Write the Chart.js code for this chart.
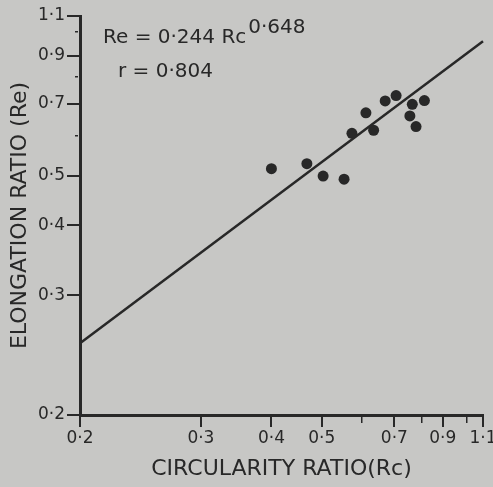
<!DOCTYPE html>
<html>
<head>
<meta charset="utf-8">
<script src="https://cdn.jsdelivr.net/npm/chart.js@4/dist/chart.umd.min.js"></script>
<style>
  html, body { margin: 0; padding: 0; background: #c7c7c5; }
  #wrap { width: 493px; height: 487px; }
</style>
</head>
<body>
<div id="wrap"><canvas id="ratioChart" width="493" height="487"></canvas></div>
<script>
// Circularity ratio (Rc) vs elongation ratio (Re) of the basins
const rcValues = [0.40, 0.468, 0.503, 0.553, 0.573, 0.611, 0.634, 0.670, 0.706, 0.764, 0.755, 0.778, 0.812];
const reValues = [0.516, 0.528, 0.499, 0.492, 0.607, 0.670, 0.616, 0.710, 0.729, 0.698, 0.660, 0.627, 0.711];

// fitted line, as drawn
const fitRc = [0.2, 1.1];
const fitRe = [0.255, 0.96];

// tick marks on both axes, and the ones that carry a label
const tickValues = [0.2, 0.3, 0.4, 0.5, 0.6, 0.7, 0.8, 0.9, 1.0, 1.1];
const labelledTicks = [0.2, 0.3, 0.4, 0.5, 0.7, 0.9, 1.1];

// the printed log paper is hand-ruled: where each tick sits along the axis (0..1)
const axisRuling = [0, 0.30, 0.475, 0.60, 0.70, 0.78, 0.848, 0.90, 0.96, 1];

const INK = "#282828";
const FONT = "'DejaVu Sans', sans-serif";

// log scale that follows the hand-ruled tick positions
class RuledLogScale extends Chart.LogarithmicScale {
    buildTicks() {
        return tickValues.map(v => ({ value: v }));
    }
    toDecimal(value) {
        const lv = Math.log10(value);
        const n = tickValues.length;
        let i = 0;
        while (i < n - 2 && lv > Math.log10(tickValues[i + 1])) i++;
        const a = Math.log10(tickValues[i]), b = Math.log10(tickValues[i + 1]);
        const t = (lv - a) / (b - a);
        return axisRuling[i] + t * (axisRuling[i + 1] - axisRuling[i]);
    }
    getPixelForValue(value) {
        if (value === null || value === undefined || isNaN(value) || value <= 0) return NaN;
        return this.getPixelForDecimal(this.toDecimal(value));
    }
    getValueForPixel(pixel) {
        const d = this.getDecimalForPixel(pixel);
        let i = 0;
        while (i < axisRuling.length - 2 && d > axisRuling[i + 1]) i++;
        const t = (d - axisRuling[i]) / (axisRuling[i + 1] - axisRuling[i]);
        const a = Math.log10(tickValues[i]), b = Math.log10(tickValues[i + 1]);
        return Math.pow(10, a + t * (b - a));
    }
}
RuledLogScale.id = "ruledlog";
RuledLogScale.defaults = {};
Chart.register(RuledLogScale);

function isLabelled(value) {
    return labelledTicks.some(v => Math.abs(v - value) < 1e-6);
}

function tickLabel(value) {
    return isLabelled(value) ? value.toFixed(1).replace(".", "\u00b7") : "";
}

function tickWidth(ctx) {
    return ctx.tick && !isLabelled(ctx.tick.value) ? 1.5 : 2;
}

// unlabelled ticks are short: x ticks start at the axis, y ticks end at it
function xTickDash(ctx) {
    return ctx.tick && !isLabelled(ctx.tick.value) ? [6, 40] : [];
}
function yTickDash(ctx) {
    return ctx.tick && !isLabelled(ctx.tick.value) ? [3, 40] : [];
}

// equation text in the upper left
const equationPlugin = {
    id: "equation",
    afterDraw(chart) {
        const ctx = chart.ctx;
        const left = chart.chartArea.left;
        const top = chart.chartArea.top;
        ctx.save();
        ctx.fillStyle = INK;
        ctx.textAlign = "left";
        ctx.textBaseline = "alphabetic";
        ctx.font = "20px " + FONT;
        const main = "Re = 0\u00b7244 Rc";
        ctx.fillText(main, left + 23, top + 27);
        const w = ctx.measureText(main).width;
        ctx.fillText("0\u00b7648", left + 23 + w + 2, top + 17);
        ctx.fillText("r = 0\u00b7804", left + 38, top + 61);
        ctx.restore();
    }
};

document.addEventListener("DOMContentLoaded", function() {
    const canvas = document.getElementById("ratioChart");
    if (!canvas) {
        console.error("Error: canvas not found.");
        return;
    }

    new Chart(canvas.getContext("2d"), {
        type: "scatter",
        data: {
            datasets: [
                {
                    label: "Basins",
                    data: rcValues.map((rc, i) => ({ x: rc, y: reValues[i] })),
                    pointRadius: 5.5,
                    pointBackgroundColor: INK,
                    pointBorderColor: INK,
                    pointBorderWidth: 0
                },
                {
                    label: "Fit",
                    data: fitRc.map((rc, i) => ({ x: rc, y: fitRe[i] })),
                    showLine: true,
                    borderColor: INK,
                    borderWidth: 2.5,
                    pointRadius: 0,
                    clip: false
                }
            ]
        },
        options: {
            responsive: false,
            animation: false,
            layout: { padding: { top: 16, right: 10, left: 0, bottom: 0 } },
            plugins: {
                legend: { display: false },
                tooltip: { enabled: false }
            },
            scales: {
                x: {
                    type: "ruledlog",
                    min: 0.2,
                    max: 1.1,
                    afterFit(scale) {
                        scale.height = 72;
                        scale.paddingLeft = 0;
                        scale.paddingRight = 0;
                    },
                    border: { display: true, width: 3, color: INK },
                    grid: {
                        drawOnChartArea: false,
                        drawTicks: true,
                        tickLength: 12,
                        color: INK,
                        lineWidth: tickWidth,
                        tickBorderDash: xTickDash
                    },
                    ticks: {
                        autoSkip: false,
                        maxRotation: 0,
                        padding: 1,
                        color: INK,
                        font: { family: FONT, size: 17 },
                        callback: tickLabel
                    },
                    title: {
                        display: true,
                        text: "CIRCULARITY RATIO(Rc)",
                        color: INK,
                        font: { family: FONT, size: 22 },
                        padding: { top: 0, bottom: 5 }
                    }
                },
                y: {
                    type: "ruledlog",
                    min: 0.2,
                    max: 1.1,
                    afterFit(scale) {
                        scale.width = 80;
                        scale.paddingTop = 0;
                        scale.paddingBottom = 0;
                    },
                    border: { display: true, width: 3, color: INK },
                    grid: {
                        drawOnChartArea: false,
                        drawTicks: true,
                        tickLength: 13,
                        color: INK,
                        lineWidth: tickWidth,
                        tickBorderDash: yTickDash,
                        tickBorderDashOffset: 35
                    },
                    ticks: {
                        autoSkip: false,
                        padding: 2,
                        color: INK,
                        font: { family: FONT, size: 17 },
                        callback: tickLabel
                    },
                    title: {
                        display: true,
                        text: "ELONGATION RATIO (Re)",
                        color: INK,
                        font: { family: FONT, size: 22 },
                        padding: { top: 7, bottom: 0 }
                    }
                }
            }
        },
        plugins: [equationPlugin]
    });
});
</script>
</body>
</html>
